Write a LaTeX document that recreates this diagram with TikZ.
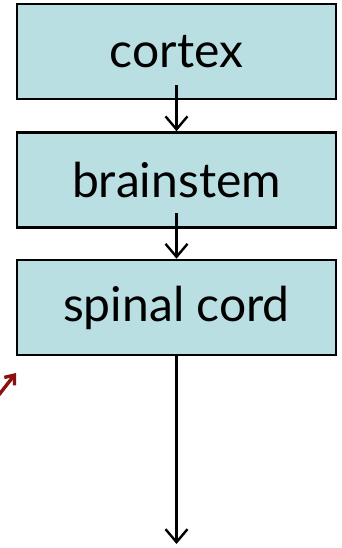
\documentclass[tikz,border=0pt]{standalone}
\usepackage{fontspec}
\setmainfont{Lato}
\usetikzlibrary{arrows.meta}
\definecolor{boxfill}{HTML}{B9DFE2}
\definecolor{darkred}{HTML}{8B1010}
\begin{document}
\begin{tikzpicture}[x=1pt,y=1pt,
  stage/.style={draw=black, line width=2.6pt, fill=boxfill,
    minimum width=319pt, minimum height=95pt, inner sep=0pt,
    font=\fontsize{48}{56}\selectfont},
  flow/.style={line width=2.4pt, -{Straight Barb[length=13pt,width=22pt,line width=2.4pt]}}]
\useasboundingbox (0,0) rectangle (341,-548);
\node[stage] (cortex) at (176.5,-51.5) {cortex};
\node[stage] (brainstem) at (176.5,-180) {brainstem};
\node[stage] (spinal) at (176.5,-307.5) {spinal cord};
\coordinate (out) at (176.5,-544);
\draw[flow] ([yshift=15pt]cortex.south) -- (brainstem.north);
\draw[flow] ([yshift=16pt]brainstem.south) -- (spinal.north);
\draw[flow] (spinal.south) -- (out);
% pointer arrow entering at the left edge
\coordinate (ptail) at (-2,-396);
\coordinate (ptip) at (16,-373);
\draw[darkred, line width=3.4pt, -{Straight Barb[length=8pt,width=13pt,line width=3.4pt]}] (ptail) -- (ptip);
\end{tikzpicture}
\end{document}
